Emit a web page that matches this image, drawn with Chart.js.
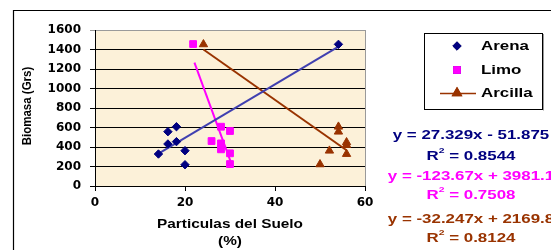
<!DOCTYPE html>
<html>
<head>
<meta charset="utf-8">
<script src="https://cdn.jsdelivr.net/npm/chart.js@4"></script>
<style>
  html, body { margin: 0; padding: 0; background: #fff; }
  #wrap { width: 551px; height: 250px; }
</style>
</head>
<body>
<div id="wrap"><canvas id="chart" width="551" height="250"></canvas></div>
<script>
// values
const seriesNames = ["Arena", "Limo", "Arcilla"];
const arenaX = [14.1, 16.2, 16.2, 18.1, 18.1, 20, 20, 54.1];
const arenaY = [328, 557, 431, 608, 455, 362, 218, 1453];
const limoX = [21.8, 25.9, 28, 28, 28, 30, 30, 30];
const limoY = [1456, 461, 608, 437, 376, 564, 335, 225];
const arcillaX = [24.1, 50, 52.1, 54.1, 54.1, 55.9, 55.9, 55.9];
const arcillaY = [1453, 222, 362, 608, 557, 448, 420, 328];

// trend line end points
const arenaTrendX = [14.1, 54.1];
const arenaTrendY = [333, 1429];
const limoTrendX = [22.1, 30.1];
const limoTrendY = [1265, 255];
const arcillaTrendX = [24.1, 55.9];
const arcillaTrendY = [1400, 367];

const equations = ["y = 27.329x - 51.875", "y = -123.67x + 3981.1", "y = -32.247x + 2169.8"];
const rSquared = ["0.8544", "0.7508", "0.8124"];

const xTicks = [0, 20, 40, 60];
const yTicks = [0, 200, 400, 600, 800, 1000, 1200, 1400, 1600];

const colors = ["#000080", "#FF00FF", "#993300"];
const trendColors = ["#4040B0", "#FF00FF", "#993300"];

function toPoints(xs, ys) {
  return xs.map((x, i) => ({ x: x, y: ys[i] }));
}

function stretchText(ctx, text, x, y, sx, align) {
  ctx.save();
  ctx.translate(x, y);
  ctx.scale(sx, 1);
  ctx.textAlign = align || "center";
  ctx.fillText(text, 0, 0);
  ctx.restore();
}

const FONT = "'Liberation Sans', Arial, sans-serif";

const decor = {
  id: "decor",
  beforeDraw(chart) {
    const { ctx, chartArea: a } = chart;
    ctx.save();
    ctx.fillStyle = "#FCF1D9";
    ctx.fillRect(a.left, a.top, a.right - a.left, a.bottom - a.top);
    // outer frame
    ctx.strokeStyle = "#000";
    ctx.lineWidth = 1.2;
    ctx.beginPath();
    ctx.moveTo(13.5, 250);
    ctx.lineTo(13.5, 10.5);
    ctx.lineTo(551, 10.5);
    ctx.stroke();
    ctx.restore();
  },
  afterDraw(chart) {
    const { ctx, chartArea: a } = chart;
    ctx.save();
    // right border of plot
    ctx.strokeStyle = "#9a9a9a";
    ctx.lineWidth = 1;
    ctx.beginPath();
    ctx.moveTo(a.right + 0.5, a.top);
    ctx.lineTo(a.right + 0.5, a.bottom);
    ctx.stroke();

    // axis titles
    ctx.fillStyle = "#000";
    ctx.textBaseline = "middle";
    ctx.font = "bold 12px " + FONT;
    stretchText(ctx, "Particulas del Suelo", (a.left + a.right) / 2, 225, 1.28);
    stretchText(ctx, "(%)", (a.left + a.right) / 2, 242, 1.28);
    ctx.save();
    ctx.translate(27, 106);
    ctx.rotate(-Math.PI / 2);
    ctx.scale(1, 1.15);
    ctx.font = "bold 11.5px " + FONT;
    ctx.textAlign = "center";
    ctx.fillText("Biomasa (Grs)", 0, 0);
    ctx.restore();

    // legend
    ctx.fillStyle = "#fff";
    ctx.fillRect(424, 33, 118, 76);
    ctx.strokeStyle = "#000";
    ctx.lineWidth = 1;
    ctx.strokeRect(424.5, 33.5, 118, 76);
    ctx.strokeStyle = "#999";
    ctx.beginPath();
    ctx.moveTo(543.5, 34);
    ctx.lineTo(543.5, 110.5);
    ctx.stroke();
    const rows = [46, 70, 93];
    const ds = chart.data.datasets;
    for (let i = 0; i < 3; i++) {
      const d = ds[i];
      if (i === 2) {
        ctx.strokeStyle = colors[2];
        ctx.lineWidth = 1.5;
        ctx.beginPath();
        ctx.moveTo(440, rows[i] + 0.5);
        ctx.lineTo(476, rows[i] + 0.5);
        ctx.stroke();
      }
      Chart.helpers.drawPoint(ctx, {
        pointStyle: d.pointStyle,
        radius: d.pointRadius,
        borderWidth: 1,
        rotation: 0
      }, 457, rows[i]);
      ctx.fillStyle = d.backgroundColor;
      ctx.strokeStyle = d.borderColor;
      ctx.fill();
      ctx.stroke();
      ctx.fillStyle = "#000";
      ctx.font = "bold 13px " + FONT;
      stretchText(ctx, seriesNames[i], 481, rows[i], 1.3, "left");
    }

    // equations
    const eqY = [135, 176, 219];
    const rY = [156, 195, 238];
    const sx = 1.3;
    for (let i = 0; i < 3; i++) {
      ctx.fillStyle = colors[i];
      ctx.font = "bold 13px " + FONT;
      stretchText(ctx, equations[i], 471, eqY[i], sx);
      const rest = " = " + rSquared[i];
      const wR = ctx.measureText("R").width * sx;
      const wRest = ctx.measureText(rest).width * sx;
      ctx.font = "bold 8px " + FONT;
      const w2 = ctx.measureText("2").width * sx;
      let x0 = 471 - (wR + w2 + wRest) / 2;
      ctx.font = "bold 13px " + FONT;
      stretchText(ctx, "R", x0, rY[i], sx, "left");
      ctx.font = "bold 8px " + FONT;
      stretchText(ctx, "2", x0 + wR, rY[i] - 5, sx, "left");
      ctx.font = "bold 13px " + FONT;
      stretchText(ctx, rest, x0 + wR + w2, rY[i], sx, "left");
    }
    ctx.restore();
  }
};

const tickFont = { family: "DejaVu Sans", weight: "bold", size: 12 };

const ctx = document.getElementById("chart").getContext("2d");
new Chart(ctx, {
  type: "scatter",
  data: {
    datasets: [
      {
        label: seriesNames[0],
        data: toPoints(arenaX, arenaY),
        pointStyle: "rectRot",
        pointRadius: 4.2,
        backgroundColor: colors[0],
        borderColor: colors[0],
        borderWidth: 1,
      },
      {
        label: seriesNames[1],
        data: toPoints(limoX, limoY),
        pointStyle: "rect",
        pointRadius: 4.8,
        backgroundColor: colors[1],
        borderColor: colors[1],
        borderWidth: 1,
      },
      {
        label: seriesNames[2],
        data: toPoints(arcillaX, arcillaY),
        pointStyle: "triangle",
        pointRadius: 4.8,
        backgroundColor: colors[2],
        borderColor: colors[2],
        borderWidth: 1,
      },
      {
        label: "trend Arena",
        data: toPoints(arenaTrendX, arenaTrendY),
        showLine: true,
        pointRadius: 0,
        borderColor: trendColors[0],
        borderWidth: 2,
        order: 5,
      },
      {
        label: "trend Limo",
        data: toPoints(limoTrendX, limoTrendY),
        showLine: true,
        pointRadius: 0,
        borderColor: trendColors[1],
        borderWidth: 2,
        order: 5,
      },
      {
        label: "trend Arcilla",
        data: toPoints(arcillaTrendX, arcillaTrendY),
        showLine: true,
        pointRadius: 0,
        borderColor: trendColors[2],
        borderWidth: 2,
        order: 5,
      },
    ],
  },
  options: {
    responsive: false,
    animation: false,
    devicePixelRatio: 1,
    layout: { padding: { left: 0, top: 30, right: 186, bottom: 0 } },
    plugins: {
      legend: { display: false },
      tooltip: { enabled: false },
    },
    scales: {
      x: {
        type: "linear",
        min: 0,
        max: 60,
        afterBuildTicks: (scale) => {
          scale.ticks = xTicks.map((v) => ({ value: v }));
        },
        afterFit: (scale) => {
          scale.height = 64;
        },
        grid: {
          drawOnChartArea: false,
          drawTicks: true,
          tickLength: 5,
          color: "#000",
        },
        border: { color: "#000", width: 1 },
        ticks: {
          color: "#000",
          padding: 5,
          maxRotation: 0,
          font: tickFont,
          callback: (v) => String(v),
        },
      },
      y: {
        type: "linear",
        min: 0,
        max: 1600,
        afterBuildTicks: (scale) => {
          scale.ticks = yTicks.map((v) => ({ value: v }));
        },
        afterFit: (scale) => {
          scale.width = 95;
        },
        grid: {
          drawTicks: true,
          tickLength: 5,
          color: (c) => (c.tick && c.tick.value === 1600 ? "#9a9a9a" : "#000"),
        },
        border: { color: "#000", width: 1 },
        ticks: {
          color: "#000",
          padding: 9,
          font: tickFont,
          callback: (v) => String(v),
        },
      },
    },
  },
  plugins: [decor],
});
</script>
</body>
</html>
